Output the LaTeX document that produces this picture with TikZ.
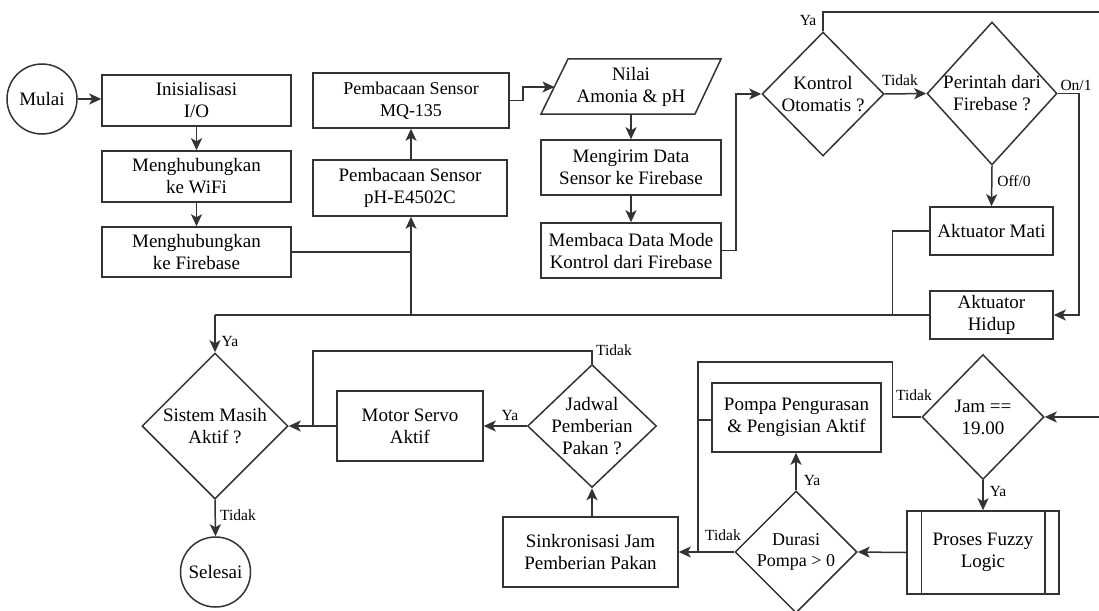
\documentclass[tikz,border=0pt]{standalone}
\usepackage{fontspec}
\setmainfont{Liberation Serif}
\usetikzlibrary{arrows.meta,shapes.geometric}
\begin{document}
\begin{tikzpicture}[x=1pt,y=-1pt,
  every node/.style={font=\fontsize{19}{22}\selectfont, text=black},
  ln/.style={draw=black!80, line width=1.5pt},
  arr/.style={ln, -{Stealth[length=12pt,width=11pt,inset=3pt]}},
  box/.style={rectangle, draw=black!80, line width=1.5pt, align=center, inner sep=0pt},
  dia/.style={diamond, draw=black!80, line width=1.5pt, inner sep=0pt},
  circ/.style={circle, draw=black!80, line width=1.5pt, inner sep=0pt, minimum size=70pt},
  lbl/.style={font=\fontsize{15.5}{18}\selectfont, inner sep=1pt},
  dtext/.style={align=center}
]
\useasboundingbox (0,0) rectangle (1099,610);

% top row
\node[circ] (mulai) at (42,99) {Mulai};
\node[box, minimum width=189pt, minimum height=51pt] (init) at (196.5,100.5) {Inisialisasi\\I/O};
\node[box, minimum width=189pt, minimum height=51pt] (wifi) at (196.5,176.5) {Menghubungkan\\ke WiFi};
\node[box, minimum width=189pt, minimum height=50pt] (fb) at (196.5,252) {Menghubungkan\\ke Firebase};
\node[box, minimum width=196pt, minimum height=55pt, font=\fontsize{18}{22}\selectfont] (mq) at (411,100.5) {Pembacaan Sensor\\MQ-135};
\node[box, minimum width=194pt, minimum height=56pt] (ph) at (410,188) {Pembacaan Sensor\\pH-E4502C};

\draw[ln] (568,59) -- (721,59) -- (695,114) -- (541,114) -- cycle;
\node[align=center] (nilai) at (631,87) {Nilai\\Amonia \& pH};
\coordinate (nilaiL) at (554.5,87);
\coordinate (nilaiB) at (631,114);

\node[box, minimum width=180pt, minimum height=55pt] (send) at (631,167.5) {Mengirim Data\\Sensor ke Firebase};
\node[box, minimum width=180pt, minimum height=55pt] (read) at (631,250.5) {Membaca Data Mode\\Kontrol dari Firebase};

\node[dia, minimum width=122pt, minimum height=124pt, label={[dtext]center:Kontrol\\Otomatis ?}] (kontrol) at (823,94) {};
\node[dia, minimum width=130pt, minimum height=143pt, label={[dtext]center:Perintah dari\\Firebase ?}] (perintah) at (992,93.5) {};
\node[box, minimum width=123pt, minimum height=48pt] (mati) at (991.5,231) {Aktuator Mati};
\node[box, minimum width=123pt, minimum height=48pt] (hidup) at (991.5,315) {Aktuator\\Hidup};

% bottom row
\node[dia, minimum width=146pt, minimum height=146pt, label={[dtext]center:Sistem Masih\\Aktif ?}] (sistem) at (215,426) {};
\node[circ] (selesai) at (215.5,572) {Selesai};
\node[box, minimum width=146pt, minimum height=70pt] (motor) at (410,426) {Motor Servo\\Aktif};
\node[dia, minimum width=129pt, minimum height=123pt, label={[dtext]center:Jadwal\\Pemberian\\Pakan ?}] (jadwal) at (592,426) {};
\node[box, minimum width=175pt, minimum height=70pt] (sinkron) at (590.5,552) {Sinkronisasi Jam\\Pemberian Pakan};
\node[box, minimum width=169pt, minimum height=69pt] (pompa) at (796.5,417.5) {Pompa Pengurasan\\\& Pengisian Aktif};
\node[dia, minimum width=122pt, minimum height=122pt, label={[dtext,font=\fontsize{18}{21}\selectfont]center:Durasi\\Pompa > 0}] (durasi) at (796,552) {};
\node[dia, minimum width=122pt, minimum height=125pt, label={[dtext]center:Jam ==\\19.00}] (jam) at (983,417) {};
\node[box, minimum width=152pt, minimum height=83pt] (proses) at (983,552.5) {Proses Fuzzy\\Logic};
\draw[ln] ([xshift=15pt]proses.north west) -- ([xshift=15pt]proses.south west);
\draw[ln] ([xshift=-15pt]proses.north east) -- ([xshift=-15pt]proses.south east);

% junction coordinates
\coordinate (botL) at (215,315);
\coordinate (joinV) at (411,315);
\coordinate (topR) at (1099,12);
\coordinate (jamIn) at (1099,417);

% connectors top
\draw[arr] (mulai.east) -- (mulai.east -| init.west);
\draw[arr] (init.south) -- (wifi.north);
\draw[arr] (wifi.south) -- (fb.north);
\draw[ln] (fb.east) -- (fb.east -| joinV);
\draw[arr] (joinV) -- (joinV |- ph.south);
\draw[arr] (ph.north -| joinV) -- (joinV |- mq.south);
\draw[arr] (mq.east) -- ++(13,0) |- (nilaiL);
\draw[arr] (nilaiB) -- (send.north);
\draw[arr] (send.south) -- (read.north);
\draw[arr] (read.east) -- ++(14,0) |- (kontrol.west);
\draw[ln] (kontrol.north) |- (topR);
\draw[arr] (kontrol.east) -- (perintah.west);
\draw[arr] (perintah.east) -- ++(21,0) |- (hidup.east);
\draw[arr] (perintah.south) -- (mati.north);
\draw[ln] (mati.west) -- ++(-37,0) |- (hidup.west);
\draw[ln] (hidup.west) -- (botL);
\draw[arr] (botL) -- (sistem.north);

% connectors bottom
\draw[arr] (sistem.south) -- (selesai.north);
\draw[arr] (motor.west) -- (sistem.east);
\draw[arr] (jadwal.west) -- (motor.east);
\draw[ln] (jadwal.north) -- ++(0,-13) -| (313,426);
\draw[arr] (sinkron.north -| jadwal.south) -- (jadwal.south);
\draw[arr] (jamIn) -- (jam.east);
\draw[ln] (jam.west) -- ++(-29,0) |- (698,362) -- (698,552);
\draw[ln] (pompa.west |- 0,420) -- (698,420);
\draw[arr] (durasi.west) -- (sinkron.east);
\draw[arr] (durasi.north) -- (pompa.south -| durasi.north);
\draw[arr] (jam.south) -- (proses.north);
\draw[arr] (proses.west) -- (durasi.east);

% labels
\node[lbl] (l1) at (808,21) {Ya};
\node[lbl] (l2) at (900,80) {Tidak};
\node[lbl] (l3) at (1076,85) {On/1};
\node[lbl] (l4) at (1014,181) {Off/0};
\node[lbl] (l5) at (230,341) {Ya};
\node[lbl] (l6) at (238,515) {Tidak};
\node[lbl] (l7) at (510,415) {Ya};
\node[lbl] (l8) at (614,350) {Tidak};
\node[lbl] (l9) at (914,395) {Tidak};
\node[lbl] (l10) at (723,535) {Tidak};
\node[lbl] (l11) at (812,480) {Ya};
\node[lbl] (l12) at (998,491) {Ya};
\end{tikzpicture}
\end{document}
